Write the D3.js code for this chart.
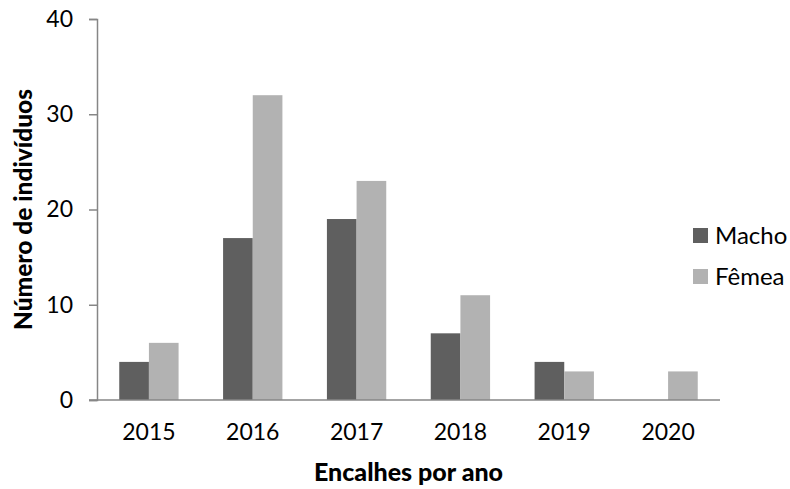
<!DOCTYPE html>
<html>
<head>
<meta charset="utf-8">
<script src="https://cdn.jsdelivr.net/npm/d3@7"></script>
<style>
  html, body { margin: 0; padding: 0; background: #fff; }
  svg { display: block; }
  text { font-family: Lato, "Open Sans", sans-serif; fill: #000; }
</style>
</head>
<body>
<svg id="chart" width="790" height="489"></svg>
<script>
// Strandings per year, split by sex
const years = ["2015", "2016", "2017", "2018", "2019", "2020"];
const seriesNames = ["Macho", "Fêmea"];
const macho = [4, 17, 19, 7, 4, 0];
const femea = [6, 32, 23, 11, 3, 3];
const yTicks = [0, 10, 20, 30, 40];
const colors = ["#5f5f5f", "#b2b2b2"];

const svg = d3.select("#chart");
const plotLeft = 97, plotRight = 720, plotTop = 19, plotBottom = 400;

const x = d3.scaleBand().domain(years).range([plotLeft, plotRight]);
const gapRatio = 1.5; // gap between groups relative to one bar
const barW = x.bandwidth() / (seriesNames.length + gapRatio);
const xs = d3.scaleBand().domain(seriesNames)
  .range([0, barW * seriesNames.length])
  .paddingInner(0).paddingOuter(0);
const y = d3.scaleLinear().domain([0, 40]).range([plotBottom, plotTop]);

const rows = years.map((yr, i) => ({ year: yr, values: [macho[i], femea[i]] }));

// bars
const groups = svg.append("g").selectAll("g").data(rows).join("g")
  .attr("transform", d => `translate(${x(d.year) + (x.bandwidth() - barW * 2) / 2},0)`);
groups.selectAll("rect")
  .data(d => d.values.map((v, k) => ({ key: seriesNames[k], v, k })))
  .join("rect")
  .attr("x", d => xs(d.key))
  .attr("width", xs.bandwidth())
  .attr("y", d => y(d.v))
  .attr("height", d => plotBottom - y(d.v))
  .attr("fill", d => colors[d.k]);

// y axis
const yAxis = d3.axisLeft(y).tickValues(yTicks).tickSize(8).tickPadding(16);
const gy = svg.append("g").attr("transform", `translate(${plotLeft},0)`).call(yAxis);
gy.select(".domain").attr("stroke", "#868686").attr("stroke-width", 1.5);
gy.selectAll(".tick line").attr("stroke", "#868686").attr("stroke-width", 1.5);
gy.selectAll(".tick text").attr("font-size", 23).attr("font-family", "Lato, sans-serif").attr("fill", "#000");

// x axis
const xAxis = d3.axisBottom(x).tickSize(0).tickPadding(24);
const gx = svg.append("g").attr("transform", `translate(0,${plotBottom})`).call(xAxis);
gx.select(".domain").attr("d", `M${plotLeft - 8},0H${plotRight}`).attr("stroke", "#868686").attr("stroke-width", 1.5);
gx.selectAll(".tick text").attr("font-size", 23).attr("font-family", "Lato, sans-serif").attr("fill", "#000");

// axis titles
svg.append("text")
  .attr("x", (plotLeft + plotRight) / 2).attr("y", 481)
  .attr("text-anchor", "middle").attr("font-size", 25).attr("font-weight", "900")
  .text("Encalhes por ano");
svg.append("text")
  .attr("transform", `translate(32,${(plotTop + plotBottom) / 2}) rotate(-90)`)
  .attr("text-anchor", "middle").attr("font-size", 24.5).attr("font-weight", "900")
  .text("Número de indivíduos");

// legend
const legend = svg.append("g").attr("transform", "translate(693,228)");
const li = legend.selectAll("g").data(seriesNames).join("g")
  .attr("transform", (d, i) => `translate(0,${i * 41})`);
li.append("rect").attr("width", 15).attr("height", 15).attr("fill", (d, i) => colors[i]);
li.append("text").attr("x", 22).attr("y", 8).attr("dy", "0.35em")
  .attr("font-size", 24).text(d => d);
</script>
</body>
</html>
